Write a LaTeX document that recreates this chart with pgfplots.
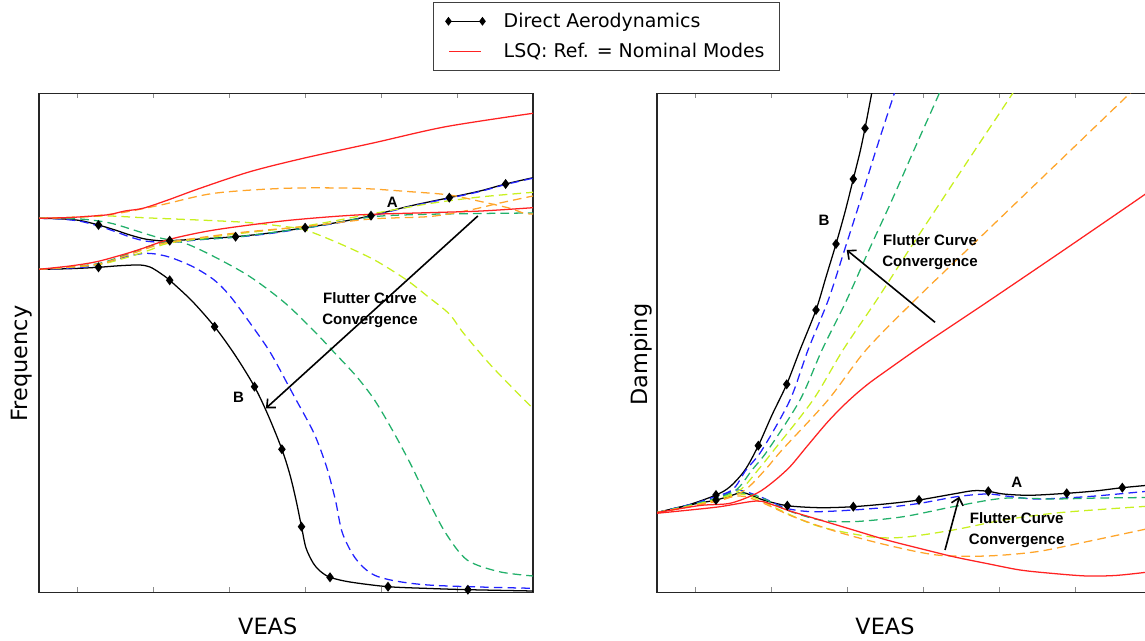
\documentclass[border=0pt]{standalone}
\usepackage{fontspec}
\setmainfont{DejaVu Sans}
\newfontfamily\annfont{Liberation Sans}
\usepackage{pgfplots}
\pgfplotsset{compat=1.18}
\usetikzlibrary{arrows.meta}
\definecolor{cblue}{HTML}{2222FF}
\definecolor{cgreen}{HTML}{22B06A}
\definecolor{cyellow}{HTML}{C8F020}
\definecolor{corange}{HTML}{FFA52A}
\definecolor{cred}{HTML}{FF2222}
\newcommand\labfont{\fontsize{16.8}{19}\selectfont}
\newcommand\annf{\annfont\bfseries\fontsize{11.3}{15.75}\selectfont}
\pgfplotsset{
  panel/.style={scale only axis, width=370.5pt, height=374.25pt,
    ymin=48.7, ymax=547.7, ytick=\empty, xticklabels={},
    tick align=inside, major tick length=3.75pt,
    every tick/.style={black!45, line width=0.6pt},
    axis line style={black!85, line width=0.9pt},
    label style={font=\labfont, inner sep=0pt},
    every axis plot/.append style={line width=0.95pt},
  },
  dsh/.style={dash pattern=on 6.5pt off 3.8pt, smooth, tension=0.5},
  sol/.style={smooth, tension=0.5},
  mk/.style={only marks, black, mark=diamond*, mark size=3pt},
}
\tikzset{
  ann/.style={font=\annf, align=center, inner sep=0pt},
  arr/.style={black, line width=1.2pt, -{Straight Barb[length=5pt,width=9pt]}},
}
\begin{document}
\begin{tikzpicture}
%% ---------------- Left panel: Frequency ----------------
\begin{axis}[panel, at={(29.25pt,36.525pt)}, anchor=south west,
  xmin=39, xmax=533, xtick={77,153,229,305,381,457},
  xlabel={VEAS}, ylabel={Frequency},
  xlabel style={at={(axis description cs:0.463,-0.0515)}, anchor=north},
  ylabel style={at={(axis description cs:-0.0567,0.4585)}, anchor=north, rotate=0},
  legend style={at={(axis description cs:1.1488,1.1836)}, anchor=north,
    draw=black!75, line width=0.75pt, font=\fontsize{14.2}{16}\selectfont,
    inner xsep=9pt, inner ysep=6.2pt, row sep=6.5pt,
    /tikz/every even column/.style={column sep=0pt}},
  legend cell align=left]
\addlegendimage{black, line width=0.9pt, mark=diamond*, mark size=2.6pt,
  legend image code/.code={\draw plot coordinates {(0pt,0pt) (25.5pt,0pt)};}}
\addlegendentry{\hspace{12pt}Direct Aerodynamics}
\addlegendimage{cred, line width=0.9pt,
  legend image code/.code={\draw (0.5pt,0pt) -- (24.5pt,0pt);}}
\addlegendentry{\hspace{12pt}LSQ: Ref. = Nominal Modes}
% Direct aerodynamics (lines)
\addplot[black, sol, forget plot] coordinates {(39,422.7)(60,422.2)(80,420.5)(98.5,416)(115,411)(130,406)(145,402)(160,400.2)(169.7,400.3)(200,402)(235.6,404.3)(270,408)(305.1,413.3)(340,419)(371,425.3)(410,435)(449.3,443.3)(480,450)(505.6,457)(533,463.3)};
\addplot[black, sol, forget plot] coordinates {(39,371.7)(70,372.3)(98.5,373.7)(120,375.3)(139.4,376)(150,374)(160,368)(169.7,360.7)(192,340)(214.6,314.3)(235,286)(254.5,254.3)(268,226)(281.9,191.7)(290,166)(296,141)(301.5,114.3)(306,93)(313.3,77.7)(320,70)(330,63.7)(350,59)(388,54.3)(430,52.5)(467.9,51.3)(533,50)};
% blue
\addplot[cblue, dsh, forget plot] coordinates {(39,422.7)(60,422)(80,419.8)(98.5,415)(115,409.5)(130,404)(145,400)(160,398.8)(175,398.8)(200,401.3)(235.6,403.8)(270,407.5)(305.1,412.8)(340,418.5)(371,424.8)(410,434.5)(449.3,442.8)(480,449.5)(505.6,456.5)(533,462.8)};
\addplot[cblue, dsh, forget plot] coordinates {(39,371.7)(89.6,374.5)(125.2,384)(146.6,387.7)(168,384.3)(192.9,374.3)(214.2,361)(230,345)(250,318)(270,289)(289,254.3)(296.2,241)(314,207.7)(326.5,174.3)(335.4,141)(342.5,107.7)(356.7,81)(378.1,64.3)(428,56)(533,52.7)};
% green
\addplot[cgreen, dsh, forget plot] coordinates {(39,422.7)(80,422)(110,418)(140,409)(160,403)(185,397.7)(214.2,384.3)(250,364.3)(285,338)(315,309)(335,287.7)(356.7,264.3)(374.5,241)(392.3,211)(410.2,177.7)(428,141)(445.8,107.7)(467.1,81)(499.2,69.3)(533,65)};
\addplot[cgreen, dsh, forget plot] coordinates {(39,371.7)(96,377)(125,386)(150,395)(170,399.5)(236,404)(305,413)(371,424)(420,426.5)(480,427.5)(533,428)};
% yellow
\addplot[cyellow, dsh, forget plot] coordinates {(39,422.7)(70,423.5)(107.4,425)(143,423.3)(214.2,420.3)(249.9,418.3)(280,415)(305.1,411)(338.9,397.7)(374.5,381)(406.6,361)(428,344.3)(449.3,327)(463.6,307.7)(492.1,274.3)(527.7,237.7)(533,233)};
\addplot[cyellow, dsh, forget plot] coordinates {(39,371.7)(96,376)(125,383)(150,391)(170,398)(236,407)(305,415)(371,427)(430,437.5)(480,444)(533,448.7)};
% orange
\addplot[corange, dsh, forget plot] coordinates {(39,422.7)(80,424)(118,427.7)(160.8,436)(214.2,447.7)(285.5,452.7)(356.7,452.7)(410,449.3)(449.3,446)(481.4,439.3)(510,432.7)(524,427.7)(533,427)};
\addplot[corange, dsh, forget plot] coordinates {(39,371.7)(96,376.5)(125,385)(150,393.5)(170,399)(236,408)(305,414.5)(371,422)(430,424.5)(470,431)(500,438)(533,445)};
% red (LSQ nominal)
\addplot[cred, sol, forget plot] coordinates {(39,422.7)(70,423.5)(100,425.5)(111,426.7)(125,430)(143,432.7)(168,441)(200,452.7)(250,469.3)(303.3,482.7)(374.5,498.3)(445.8,514.3)(533,527.7)};
\addplot[cred, sol, forget plot] coordinates {(39,371.7)(70,375)(96.7,379.3)(125,387)(143,392.7)(169.7,401.7)(214.3,411)(285.5,420.3)(356.7,426)(428,428.3)(481.4,430)(533,433.3)};
% markers
\addplot[mk, forget plot] coordinates {(98.5,416)(169.7,400.3)(235.6,404.3)(305.1,413.3)(371,425.3)(449.3,443.3)(505.6,457)};
\addplot[mk, forget plot] coordinates {(98.5,373.7)(169.7,360.7)(214.6,314.3)(254.5,254.3)(281.9,191.7)(301.5,114.3)(330,63.7)(388,54.3)(467.9,51.3)};
% annotations
\node[ann] at (axis cs:392.3,438.3) {A};
\node[ann] at (axis cs:238.5,243.7) {B};
\node[ann] at (axis cs:370,330.5) {Flutter Curve\\Convergence};
\draw[arr] (axis cs:477.8,425) -- (axis cs:265.9,232.7);
\end{axis}
%% ---------------- Right panel: Damping ----------------
\begin{axis}[panel, at={(492.75pt,36.525pt)}, anchor=south west,
  xmin=657, xmax=1151, xtick={695,771,847,923,999,1075},
  xlabel={VEAS}, ylabel={Damping},
  xlabel style={at={(axis description cs:0.4615,-0.0515)}, anchor=north},
  ylabel style={at={(axis description cs:-0.0547,0.4766)}, anchor=north, rotate=0}]
\addplot[black, sol] coordinates {(656.7,128.3)(686.7,135.5)(716,146)(730,154.3)(745,171)(758.3,195.3)(772,226)(786.7,256.7)(800,291)(816,331)(826,364)(836,397)(845,429)(853.3,462)(860,489)(865,512.7)(871.7,547.7)(874,560)};
\addplot[black, sol] coordinates {(656.7,128.3)(686.7,135.5)(716,141)(730,145)(743.3,148.3)(763.3,141)(787.3,135.3)(820,133.3)(853.3,134.3)(890,137.5)(919,141)(953.3,147)(973.3,150.3)(988.3,149.7)(1003.3,147)(1030,145.7)(1066.7,147.7)(1095,150)(1122.3,153.3)(1151,156)};
% blue
\addplot[cblue, dsh] coordinates {(656.7,128.3)(690,136)(705,141)(732,151)(746,171)(762,191)(790,241)(808,291)(828.3,341)(844.5,391)(860.5,441)(876,491)(894.3,547.7)(898,560)};
\addplot[cblue, dsh] coordinates {(656.7,128.3)(690,136.5)(716.7,142.7)(736.7,151)(760,144.3)(786.7,132.7)(813.3,129.3)(853.3,131)(890,134)(920,137.7)(956.7,144.3)(986.7,147)(1010,144.5)(1036.7,142)(1086.7,144.3)(1142.7,149.3)(1151,150)};
% green
\addplot[cgreen, dsh] coordinates {(656.7,128.3)(690,135.5)(710,141)(736,151)(752,171)(768,191)(800,241)(822,291)(846.7,341)(869,391)(892,441)(914,491)(939.3,547.7)(944,560)};
\addplot[cgreen, dsh] coordinates {(656.7,128.3)(690,136)(716,142)(740,148)(760,144)(786.7,131)(820,121)(853.3,119.3)(903.3,124.3)(953.3,134.3)(1003.3,142.7)(1053.3,142)(1100,143)(1151,143.5)};
% yellow
\addplot[cyellow, dsh] coordinates {(656.7,128.3)(690,135)(715,141)(740,151)(758,171)(774,191)(813,241)(843,291)(876.7,341)(909,391)(942,441)(975,491)(1012.7,547.7)(1020,560)};
\addplot[cyellow, dsh] coordinates {(656.7,128.3)(690,135)(716,141.5)(740,147)(760,141)(786.7,127.7)(820,114.3)(870,104.3)(903.3,103.7)(953.3,111)(1003.3,121)(1053.3,127.7)(1100,131.5)(1151,135)};
% orange
\addplot[corange, dsh] coordinates {(656.7,128.3)(690,134.5)(722,141)(745,151)(765,171)(782,191)(828,241)(866,291)(915,341)(967,391)(1019,441)(1071,491)(1130,547.7)(1140,556)};
\addplot[corange, dsh] coordinates {(656.7,128.3)(690,134.5)(716,140.5)(740,145)(760,139.3)(793.3,124.3)(836.7,109.3)(886.7,96)(936.7,86)(986.7,85)(1036.7,89.3)(1086.7,99.3)(1151,113)};
% red
\addplot[cred, sol] coordinates {(656.7,128.3)(700,135.5)(730,137.7)(756.7,147.7)(773.3,159.3)(790,174.3)(806.7,194.3)(826.7,218)(842,234)(856,247)(870,258.5)(886.7,270.5)(910,287)(933.3,303)(986.5,338.5)(1061,389)(1135.4,440)(1151,451)};
\addplot[cred, sol] coordinates {(656.7,127.7)(690,131)(720,134.3)(756.7,140)(773.3,136)(790,130)(820,121)(853.3,111)(886.7,101)(920,92.5)(953.3,84.3)(986.7,77.5)(1020,71)(1053.3,67.5)(1086.7,65)(1115,65.5)(1142.7,68.3)(1151,69.5)};
% markers
\addplot[mk] coordinates {(716,146)(758.3,195.3)(786.7,256.7)(816,331)(836,397)(853.3,462)(865,512.7)};
\addplot[mk] coordinates {(716,141)(787.3,135.3)(853.3,134.3)(919,141)(988.3,149.7)(1066.7,147.7)(1122.3,153.3)};
% annotations
\node[ann] at (axis cs:824,421) {B};
\node[ann] at (axis cs:930,389) {Flutter Curve\\Convergence};
\draw[arr] (axis cs:935,318.7) -- (axis cs:846.7,391);
\node[ann] at (axis cs:1016.7,158.3) {A};
\node[ann] at (axis cs:1016.7,111) {Flutter Curve\\Convergence};
\draw[arr] (axis cs:945,91) -- (axis cs:959.3,144.3);
\end{axis}
\pgfresetboundingbox
\useasboundingbox (0,0) rectangle (858.75pt,480.75pt);
\end{tikzpicture}
\end{document}
